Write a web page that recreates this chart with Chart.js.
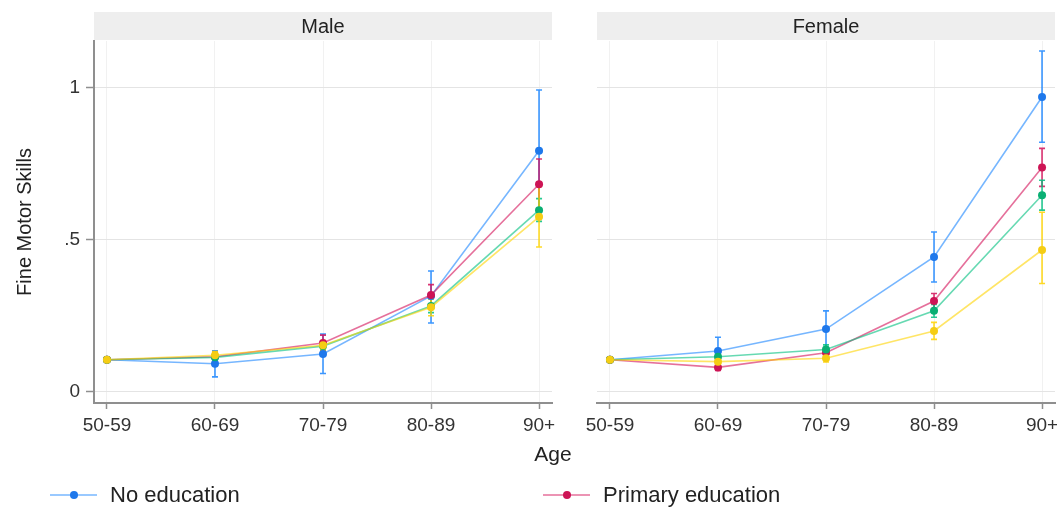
<!DOCTYPE html>
<html lang="en">
<head>
<meta charset="UTF-8" />
<title>Fine Motor Skills by Age</title>
<script src="https://cdn.jsdelivr.net/npm/chart.js"></script>
<style>
  html, body { margin: 0; padding: 0; background: #fff; overflow: hidden; }
  #wrap { position: relative; width: 1057px; height: 510px; overflow: hidden; }
  #wrap canvas { position: absolute; top: 0; }
</style>
</head>
<body>
<div id="wrap">
  <canvas id="male" width="1057" height="510" style="left:0"></canvas>
  <canvas id="female" width="520" height="440" style="left:560px"></canvas>
</div>
<script>
const ageGroups = ['50-59', '60-69', '70-79', '80-89', '90+'];
const educationLevels = ['No education', 'Primary education', 'Secondary education', 'Tertiary education'];
const panelTitles = ['Male', 'Female'];
const yTickValues = [0, 0.5, 1];
const yTickLabels = ['0', '.5', '1'];

// male: point estimates and confidence bounds
const maleNoEdu = [0.105, 0.092, 0.124, 0.315, 0.792];
const malePrimary = [0.105, 0.115, 0.160, 0.318, 0.682];
const maleSecondary = [0.105, 0.113, 0.150, 0.282, 0.597];
const maleTertiary = [0.105, 0.120, 0.153, 0.278, 0.575];
const maleNoEduLo = [0.105, 0.049, 0.060, 0.226, 0.590];
const maleNoEduHi = [0.105, 0.135, 0.190, 0.397, 0.992];
const malePrimaryLo = [0.105, 0.100, 0.135, 0.285, 0.600];
const malePrimaryHi = [0.105, 0.130, 0.186, 0.352, 0.765];
const maleSecondaryLo = [0.105, 0.105, 0.138, 0.260, 0.560];
const maleSecondaryHi = [0.105, 0.122, 0.162, 0.305, 0.635];
const maleTertiaryLo = [0.105, 0.108, 0.138, 0.250, 0.476];
const maleTertiaryHi = [0.105, 0.132, 0.168, 0.305, 0.675];

// female
const femaleNoEdu = [0.105, 0.134, 0.206, 0.443, 0.969];
const femalePrimary = [0.105, 0.080, 0.128, 0.298, 0.737];
const femaleSecondary = [0.105, 0.115, 0.139, 0.266, 0.646];
const femaleTertiary = [0.105, 0.099, 0.110, 0.200, 0.466];
const femaleNoEduLo = [0.105, 0.090, 0.146, 0.361, 0.820];
const femaleNoEduHi = [0.105, 0.179, 0.266, 0.525, 1.120];
const femalePrimaryLo = [0.105, 0.070, 0.113, 0.273, 0.675];
const femalePrimaryHi = [0.105, 0.090, 0.143, 0.323, 0.800];
const femaleSecondaryLo = [0.105, 0.105, 0.124, 0.245, 0.597];
const femaleSecondaryHi = [0.105, 0.125, 0.154, 0.287, 0.695];
const femaleTertiaryLo = [0.105, 0.089, 0.098, 0.172, 0.356];
const femaleTertiaryHi = [0.105, 0.109, 0.122, 0.228, 0.590];

const FONT = "'Liberation Sans', Arial, sans-serif";
const seriesRgb = ['26,133,255', '212,17,89', '0,191,127', '255,212,0'];
const markerColors = ['rgb(30,120,235)', 'rgb(205,20,85)', 'rgb(10,175,115)', 'rgb(245,205,20)'];
const axisGray = '#8f8f8f';

Chart.defaults.font.family = FONT;
Chart.defaults.color = '#333';

function buildDatasets(means, lows, highs) {
  return educationLevels.map((label, k) => ({
    label,
    data: means[k].map((y, i) => ({ x: i, y })),
    ciLow: lows[k],
    ciHigh: highs[k],
    borderColor: 'rgba(' + seriesRgb[k] + ',0.6)',
    backgroundColor: markerColors[k],
    pointBackgroundColor: markerColors[k],
    pointBorderWidth: 0,
    pointRadius: 4,
    borderWidth: 1.6,
    tension: 0,
    order: educationLevels.length - 1 - k
  }));
}

const errorBars = {
  id: 'errorBars',
  beforeDatasetsDraw(chart) {
    const { ctx, scales: { x, y } } = chart;
    chart.data.datasets.forEach((ds, k) => {
      ctx.save();
      ctx.strokeStyle = 'rgba(' + seriesRgb[k] + ',0.85)';
      ctx.lineWidth = 1.6;
      ds.ciLow.forEach((lo, i) => {
        const hi = ds.ciHigh[i];
        if (hi - lo < 1e-6) return;
        const px = x.getPixelForValue(i);
        const y1 = y.getPixelForValue(lo), y2 = y.getPixelForValue(hi);
        ctx.beginPath();
        ctx.moveTo(px, y1); ctx.lineTo(px, y2);
        ctx.moveTo(px - 3, y1); ctx.lineTo(px + 3, y1);
        ctx.moveTo(px - 3, y2); ctx.lineTo(px + 3, y2);
        ctx.stroke();
      });
      ctx.restore();
    });
  }
};

const strip = {
  id: 'strip',
  beforeDraw(chart, args, opts) {
    const { ctx, chartArea } = chart;
    ctx.save();
    ctx.fillStyle = '#eeeeee';
    ctx.fillRect(chartArea.left, 12, chartArea.right - chartArea.left, 28);
    ctx.fillStyle = '#222';
    ctx.font = '20px ' + FONT;
    ctx.textAlign = 'center';
    ctx.textBaseline = 'middle';
    ctx.fillText(opts.text, (chartArea.left + chartArea.right) / 2, 27);
    ctx.restore();
  }
};

// x title and legend span both panels, drawn on the full-width canvas
const footer = {
  id: 'footer',
  afterDraw(chart) {
    const { ctx } = chart;
    ctx.save();
    ctx.fillStyle = '#222';
    ctx.textBaseline = 'middle';
    ctx.textAlign = 'center';
    ctx.font = '21px ' + FONT;
    ctx.fillText('Age', 553, 455);
    ctx.textAlign = 'left';
    ctx.font = '22px ' + FONT;
    const colX = [50, 543];
    chart.data.datasets.forEach((ds, k) => {
      const x0 = colX[k % 2];
      const y0 = 495 + Math.floor(k / 2) * 30;
      ctx.strokeStyle = ds.borderColor;
      ctx.lineWidth = 1.6;
      ctx.beginPath(); ctx.moveTo(x0, y0); ctx.lineTo(x0 + 47, y0); ctx.stroke();
      ctx.fillStyle = ds.pointBackgroundColor;
      ctx.beginPath(); ctx.arc(x0 + 24, y0, 4, 0, Math.PI * 2); ctx.fill();
      ctx.fillStyle = '#222';
      ctx.fillText(ds.label, x0 + 60, y0 + 1);
    });
    ctx.restore();
  }
};

function xScale(height) {
  return {
    type: 'linear', min: -0.12, max: 4.12,
    afterBuildTicks: s => { s.ticks = ageGroups.map((_, i) => ({ value: i })); },
    afterFit: s => { s.height = height; },
    ticks: { callback: v => ageGroups[v], font: { size: 19 }, color: '#333', padding: 5, maxRotation: 0, autoSkip: false },
    grid: { color: '#f1f1f1', lineWidth: 1, tickLength: 6, tickColor: axisGray, tickWidth: 1.5 },
    border: { color: axisGray, width: 2 }
  };
}

function yScale(withAxis) {
  return {
    min: -0.037, max: 1.153,
    afterBuildTicks: s => { s.ticks = yTickValues.map(v => ({ value: v })); },
    afterFit: s => { s.width = withAxis ? 94 : 0; },
    ticks: { display: withAxis, callback: v => yTickLabels[yTickValues.indexOf(v)], font: { size: 19 }, color: '#333', padding: 6 },
    grid: { color: '#e4e4e4', borderDash: [4, 4], dash: [4, 4], drawTicks: withAxis, tickLength: 8, tickColor: axisGray, tickBorderDash: [], tickWidth: 1.5 },
    border: { display: withAxis, color: axisGray, width: 2 },
    title: { display: withAxis, text: 'Fine Motor Skills', font: { size: 20 }, color: '#222', padding: { top: 13, bottom: 0 } }
  };
}

function makeChart(id, title, datasets, padding, xHeight, withAxis, extra) {
  return new Chart(document.getElementById(id), {
    type: 'line',
    data: { datasets },
    options: {
      responsive: false,
      animation: false,
      events: [],
      layout: { padding },
      scales: { x: xScale(xHeight), y: yScale(withAxis) },
      plugins: { legend: { display: false }, tooltip: { enabled: false }, strip: { text: title } }
    },
    plugins: [strip, errorBars].concat(extra)
  });
}

makeChart('male', panelTitles[0],
  buildDatasets([maleNoEdu, malePrimary, maleSecondary, maleTertiary],
    [maleNoEduLo, malePrimaryLo, maleSecondaryLo, maleTertiaryLo],
    [maleNoEduHi, malePrimaryHi, maleSecondaryHi, maleTertiaryHi]),
  { left: 0, right: 505, top: 41, bottom: 67 }, 40, true, [footer]);

makeChart('female', panelTitles[1],
  buildDatasets([femaleNoEdu, femalePrimary, femaleSecondary, femaleTertiary],
    [femaleNoEduLo, femalePrimaryLo, femaleSecondaryLo, femaleTertiaryLo],
    [femaleNoEduHi, femalePrimaryHi, femaleSecondaryHi, femaleTertiaryHi]),
  { left: 37, right: 25, top: 41, bottom: 0 }, 37, false, []);
</script>
</body>
</html>
